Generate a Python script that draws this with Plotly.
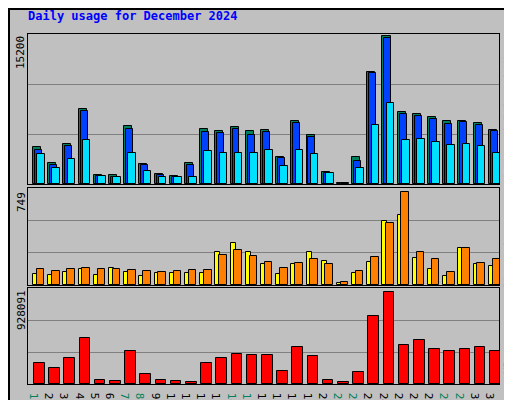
import plotly.graph_objects as go

days = list(range(1, 32))
weekend_days = [1, 7, 8, 14, 15, 21, 22, 28, 29]
hits = [3720,2100,4020,7570,880,880,5850,2030,980,780,2100,5540,5340,5750,5340,5440,2700,6350,4930,1180,150,2700,11320,14970,7270,7060,6760,6350,6350,6150,5440]
files = [3480,1960,3890,7440,780,680,5540,1960,880,710,1960,5310,5140,5610,4930,5240,2600,6150,4730,1080,120,2300,11220,14770,7060,6860,6560,6050,6250,5950,5340]
pages = [3010,1590,2500,4430,780,680,3110,1280,680,680,680,3310,3110,3110,3110,3410,1790,3410,3010,1080,100,1590,5950,8180,4430,4530,4230,3920,4020,3820,3110]
visits = [88,80,103,121,80,134,103,72,96,96,96,96,251,328,258,165,88,165,258,189,18,96,181,491,537,212,127,72,289,165,150]
sites = [121,111,127,134,127,127,119,111,103,111,119,119,235,274,227,181,134,173,204,165,26,111,220,475,716,258,204,103,289,173,204]
kbytes = [202000,150000,247000,443000,42000,33000,316000,101000,42000,33000,23000,202000,247000,287000,277000,277000,130000,355000,267000,42000,23000,120000,658000,892000,374000,423000,335000,316000,335000,355000,316000]
max_hits = 15200
max_sites = 749
max_kb = 928091
title = "Daily usage for December 2024"

W, H = 512, 400
L, R, T, B = 20, 21, 26, 24
PW, PH = W - L - R, H - T - B
def fx(px):
    return (px - L) / PW
def fy(py):
    return 1 - (py - T) / PH

fig = go.Figure()
line = dict(color="black", width=1)
def bar(y, color, off, w, xa, ya):
    fig.add_trace(go.Bar(x=days, y=y, marker=dict(color=color, line=line), offset=off, width=w,
                         xaxis=xa, yaxis=ya, showlegend=False, hoverinfo="skip"))

bar(hits, "#00805C", -0.17, 0.53, "x", "y")
bar(files, "#0040FF", -0.04, 0.46, "x", "y")
bar(pages, "#00E0FF", 0.11, 0.5, "x", "y")
bar(visits, "#FFFF00", -0.17, 0.33, "x2", "y2")
bar(sites, "#FF8000", 0.08, 0.5, "x2", "y2")
bar(kbytes, "#FF0000", -0.1, 0.7, "x3", "y3")

def xax(show):
    d = dict(domain=[0, 1], range=[0.5, 31.5], showgrid=False, zeroline=False, showline=True,
             linecolor="black", mirror=True, ticks="", fixedrange=True, automargin=False)
    if show:
        d.update(tickvals=days,
                 ticktext=[f"<span style='color:#00805C'>{d_}</span>" if d_ in weekend_days else str(d_) for d_ in days],
                 tickfont=dict(family="DejaVu Sans Mono", size=11, color="black"))
    else:
        d.update(showticklabels=False)
    return d
def yax(top, bot, mx):
    return dict(domain=[fy(bot), fy(top)], range=[0, mx], tickvals=[mx/3, 2*mx/3], showticklabels=False,
                showgrid=True, gridcolor="#808080", gridwidth=1, zeroline=False, showline=True,
                linecolor="black", mirror=True, ticks="", fixedrange=True, automargin=False)

fig.update_layout(
    width=W, height=H, autosize=False,
    margin=dict(l=L, r=R, t=T, b=B, pad=0, autoexpand=False),
    paper_bgcolor="#C0C0C0", plot_bgcolor="#C0C0C0", barmode="overlay", bargap=0,
    xaxis=dict(xax(False), anchor="y"), xaxis2=dict(xax(False), anchor="y2"), xaxis3=dict(xax(True), anchor="y3"),
    yaxis=dict(yax(26, 176, max_hits), anchor="x"),
    yaxis2=dict(yax(180, 277, max_sites), anchor="x2"),
    yaxis3=dict(yax(280, 376, max_kb), anchor="x3"),
    font=dict(family="DejaVu Sans Mono"),
)

def vlab(px, py, text, color="black"):
    return dict(xref="paper", yref="paper", x=fx(px), y=fy(py), text=text, textangle=-90,
                xanchor="center", yanchor="middle", font=dict(size=11, color=color), showarrow=False)

ann = [
    dict(xref="paper", yref="paper", x=fx(18), y=fy(8), text=f"<b>{title}</b>", xanchor="left", yanchor="middle",
         font=dict(size=12, color="#0000FF"), showarrow=False),
    vlab(13, 45, str(max_hits)),
    vlab(13, 194, str(max_sites)),
    vlab(13, 302, str(max_kb)),
    vlab(500, 100, "<span style='color:#00E0FF'>Pages</span> / <span style='color:#0040FF'>Files</span> / <span style='color:#00805C'>Hits</span>"),
    vlab(500, 235, "<span style='color:#FF8000'>Sites</span> / <span style='color:#FFFF00'>Visits</span>"),
    vlab(500, 346, "KBytes", "#FF0000"),
]
fig.update_layout(annotations=ann)
fig.update_layout(shapes=[
    dict(type="rect", xref="paper", yref="paper", x0=fx(1), y0=fy(399), x1=fx(511), y1=fy(1),
         line=dict(color="black", width=2), layer="below"),
    dict(type="line", xref="paper", yref="paper", x0=fx(508), y0=fy(3), x1=fx(508), y1=fy(397),
         line=dict(color="#808080", width=4), layer="below"),
    dict(type="line", xref="paper", yref="paper", x0=fx(3), y0=fy(396), x1=fx(508), y1=fy(396),
         line=dict(color="#808080", width=4), layer="below"),
])
fig.write_html("out.html")
